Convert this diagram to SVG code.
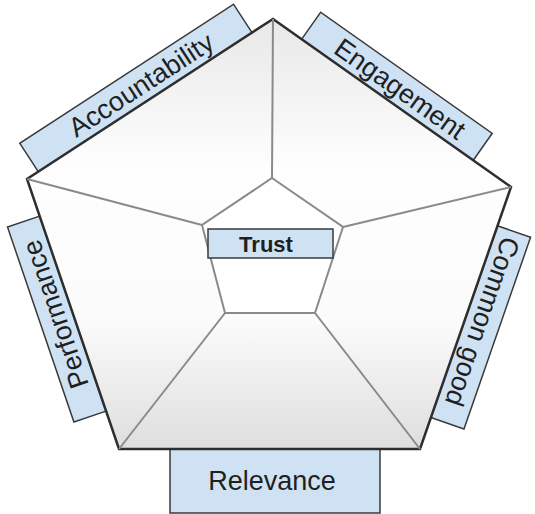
<svg xmlns="http://www.w3.org/2000/svg" width="535" height="514" viewBox="0 0 535 514">
  <defs>
    <linearGradient id="shade" gradientUnits="userSpaceOnUse" x1="0" y1="19" x2="0" y2="449">
      <stop offset="0" stop-color="#e8e8e8"/>
      <stop offset="0.35" stop-color="#fefefe"/>
      <stop offset="0.7" stop-color="#fbfbfb"/>
      <stop offset="1" stop-color="#dedede"/>
    </linearGradient>
  </defs>
  <style>
    .box { fill: #cfe2f3; stroke: #3a3a3a; stroke-width: 1.5; }
    .lbl { font-family: "Liberation Sans", Arial, sans-serif; font-size: 27px; fill: #1f1f1f; text-anchor: middle; }
    .outer { fill: url(#shade); stroke: #2e2e2e; stroke-width: 2.5; stroke-linejoin: miter; }
    .spoke { stroke: #8a8a8a; stroke-width: 2; fill: none; }
    .inner { fill: #ffffff; stroke: #8a8a8a; stroke-width: 2; }
  </style>

  <g id="accountability" transform="translate(145.2,102.2) rotate(-33.04)">
    <rect class="box" x="-127.5" y="-34" width="255" height="34"/>
    <text class="lbl" x="6" y="-7.5">Accountability</text>
  </g>
  <g id="engagement" transform="translate(387.4,99.8) rotate(35.22)">
    <rect class="box" x="-105" y="-33" width="210" height="33"/>
    <text class="lbl" x="4" y="-7">Engagement</text>
  </g>
  <g id="performance" transform="translate(72.9,313.6) rotate(-108.8)">
    <rect class="box" x="-103" y="-34" width="206" height="34"/>
    <text class="lbl" x="5" y="-7.5">Performance</text>
  </g>
  <g id="common-good" transform="translate(464.2,321.7) rotate(109.15)">
    <rect class="box" x="-101.5" y="-35" width="203" height="35"/>
    <text class="lbl" x="-6" y="-8">Common good</text>
  </g>
  <g id="relevance">
    <rect class="box" x="170" y="449" width="210" height="64"/>
    <text class="lbl" x="272" y="490">Relevance</text>
  </g>

  <g id="pentagon">
    <polygon class="outer" points="273,19 511,187 420,449 119,449 27,179"/>
    <line class="spoke" x1="273" y1="19" x2="272" y2="178"/>
    <line class="spoke" x1="511" y1="187" x2="343" y2="227"/>
    <line class="spoke" x1="420" y1="449" x2="315" y2="313"/>
    <line class="spoke" x1="119" y1="449" x2="225" y2="313"/>
    <line class="spoke" x1="27" y1="179" x2="202" y2="225"/>
    <polygon class="inner" points="272,178 343,227 315,313 225,313 202,225"/>
  </g>

  <g id="trust">
    <rect class="box" x="208" y="229" width="125" height="29"/>
    <text class="lbl" x="266" y="252" style="font-size:22px;font-weight:bold">Trust</text>
  </g>
</svg>
